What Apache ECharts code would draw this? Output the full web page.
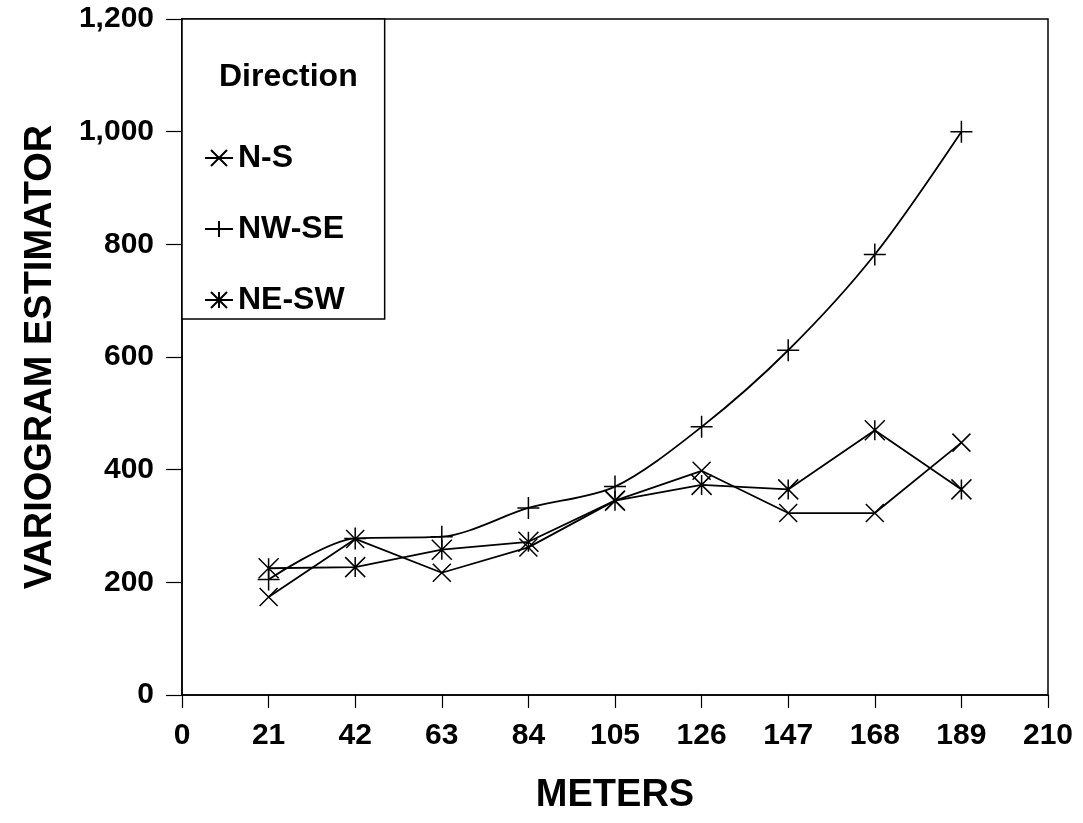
<!DOCTYPE html>
<html>
<head>
<meta charset="utf-8">
<script src="https://cdn.jsdelivr.net/npm/echarts@6/dist/echarts.min.js"></script>
<style>html,body{margin:0;padding:0;background:#fff}#c{width:1083px;height:823px}</style>
</head>
<body>
<div id="c"></div>
<script>
var meters = [21, 42, 63, 84, 105, 126, 147, 168, 189];
var nsValues = [174, 277, 217, 262, 345, 398, 323, 323, 448];
var nwseValues = [205, 278, 281, 332, 370, 476, 612, 782, 1000];
var neswValues = [225, 227, 258, 272, 345, 373, 365, 470, 365];
var seriesNames = ['N-S', 'NW-SE', 'NE-SW'];
var legendTitle = 'Direction';
var xAxisTitle = 'METERS';
var yAxisTitle = 'VARIOGRAM ESTIMATOR';

var FONT = 'Liberation Sans, Arial, Helvetica, sans-serif';
var SYM_X = 'path://M0,0L20,20M20,0L0,20';
var SYM_PLUS = 'path://M10,0L10,20M0,10L20,10';
var SYM_AST = 'path://M0,0L20,20M20,0L0,20M10,0L10,20';

function pairs(vals) { return meters.map(function (m, i) { return [m, vals[i]]; }); }

function lineSeries(name, vals, sym, size, smooth) {
  return {
    name: name, type: 'line', data: pairs(vals), smooth: smooth,
    symbol: sym, symbolSize: size, showAllSymbol: true,
    lineStyle: { color: '#000', width: 1.8 },
    itemStyle: { color: '#000', borderColor: '#000', borderWidth: 1.5 },
    emphasis: { disabled: true }, animation: false
  };
}

var chart = echarts.init(document.getElementById('c'), null, { renderer: 'canvas' });
chart.setOption({
  animation: false,
  backgroundColor: '#fff',
  grid: { left: 182, top: 19, right: 35, bottom: 128, show: true, borderColor: '#000', borderWidth: 1.5, backgroundColor: 'transparent' },
  title: {
    text: legendTitle, left: 214, top: 56,
    textStyle: { fontFamily: FONT, fontWeight: 'bold', fontSize: 32, color: '#000' }, z: 10
  },
  legend: {
    orient: 'vertical', left: 182, top: 19,
    padding: [123, 40, 3, 22],
    itemWidth: 28, itemHeight: 20, itemGap: 39,
    backgroundColor: '#fff', borderColor: '#000', borderWidth: 1.5,
    textStyle: { fontFamily: FONT, fontWeight: 'bold', fontSize: 32, color: '#000' },
    data: seriesNames, selectedMode: false, z: 5
  },
  xAxis: {
    type: 'value', min: 0, max: 210, interval: 21,
    name: xAxisTitle, nameLocation: 'middle', nameGap: 82,
    nameTextStyle: { fontFamily: FONT, fontWeight: 'bold', fontSize: 38, color: '#000' },
    axisLine: { show: true, lineStyle: { color: '#000', width: 1.5 } },
    axisTick: { show: true, inside: false, length: 13, lineStyle: { color: '#000', width: 1.2 } },
    axisLabel: { fontFamily: FONT, fontWeight: 'bold', fontSize: 30, color: '#000', margin: 26 },
    splitLine: { show: false }
  },
  yAxis: {
    type: 'value', min: 0, max: 1200, interval: 200,
    name: yAxisTitle, nameLocation: 'middle', nameGap: 122, nameRotate: 90,
    nameTextStyle: { fontFamily: FONT, fontWeight: 'bold', fontSize: 38, color: '#000' },
    axisLine: { show: true, lineStyle: { color: '#000', width: 1.5 } },
    axisTick: { show: true, inside: false, length: 16, lineStyle: { color: '#000', width: 1.2 } },
    axisLabel: {
      fontFamily: FONT, fontWeight: 'bold', fontSize: 30, color: '#000', margin: 28,
      formatter: function (v) { return v.toLocaleString('en-US'); }
    },
    splitLine: { show: false }
  },
  series: [
    lineSeries(seriesNames[0], nsValues, SYM_X, 18, false),
    lineSeries(seriesNames[1], nwseValues, SYM_PLUS, 22, 0.3),
    lineSeries(seriesNames[2], neswValues, SYM_AST, 20, false)
  ]
});
</script>
</body>
</html>
